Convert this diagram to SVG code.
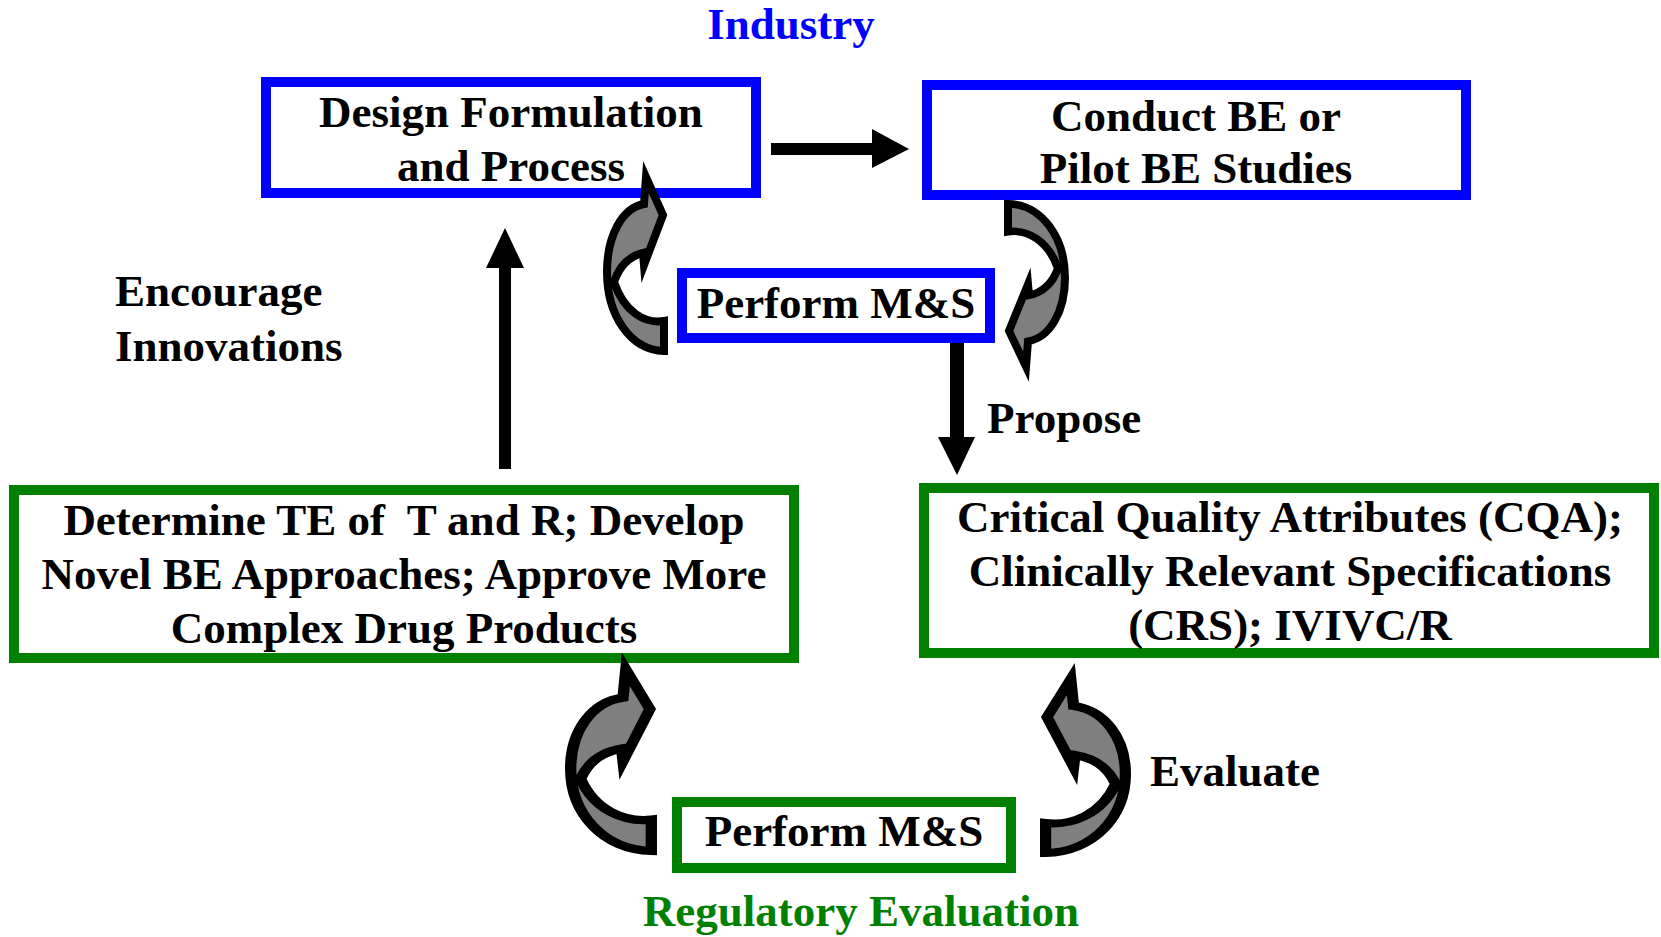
<svg xmlns="http://www.w3.org/2000/svg" width="1661" height="937" viewBox="0 0 1661 937">
  <style>
    .lbl { font-family: "Liberation Serif", "Times New Roman", serif; font-weight: bold; font-size: 45px; fill: #000; }
    .mid { text-anchor: middle; }
    .blueT { fill: #0000ff; }
    .greenT { fill: #008000; }
    .boxB { fill: #fff; stroke: #0000ff; stroke-width: 10; }
    .boxG { fill: #fff; stroke: #008000; stroke-width: 10; }
    .solid { fill: #000; stroke: none; }
    .bend { fill: #7f7f7f; stroke: #000; stroke-width: 8; stroke-linejoin: miter; stroke-miterlimit: 10; }
  </style>
  <defs>
    <!-- curved block arrow: tail at lower right, bends left, head points right at the top -->
    <path id="bentArrow" d="M 664,321 C 645,324 624,312 614,282 C 620,264 630,256 643,253 L 644,265 L 663,215 L 646,177 L 644,204 C 622,208 607,236 607,272 C 607,315 630,350 664,351 Z"/>
  </defs>

  <rect width="1661" height="937" fill="#fff"/>

  <!-- section titles -->
  <text class="lbl mid blueT" x="791" y="39">Industry</text>
  <text class="lbl mid greenT" x="861" y="926">Regulatory Evaluation</text>

  <g id="design">
    <rect class="boxB" x="266" y="82" width="490" height="111"/>
    <text class="lbl mid" x="511" y="127">Design Formulation</text>
    <text class="lbl mid" x="511" y="181">and Process</text>
  </g>

  <g id="conduct">
    <rect class="boxB" x="927" y="85" width="539" height="110"/>
    <text class="lbl mid" x="1196" y="131">Conduct BE or</text>
    <text class="lbl mid" x="1196" y="183">Pilot BE Studies</text>
  </g>

  <g id="industryMS">
    <rect class="boxB" x="682" y="273" width="308" height="65"/>
    <text class="lbl mid" x="836" y="318">Perform M&amp;S</text>
  </g>

  <g id="determine">
    <rect class="boxG" x="14" y="490" width="780" height="168"/>
    <text class="lbl mid" x="404" y="535" xml:space="preserve">Determine TE of  T and R; Develop</text>
    <text class="lbl mid" x="404" y="589">Novel BE Approaches; Approve More</text>
    <text class="lbl mid" x="404" y="643">Complex Drug Products</text>
  </g>

  <g id="cqa">
    <rect class="boxG" x="924" y="488" width="730" height="165"/>
    <text class="lbl mid" x="1290" y="532">Critical Quality Attributes (CQA);</text>
    <text class="lbl mid" x="1290" y="586">Clinically Relevant Specifications</text>
    <text class="lbl mid" x="1290" y="640">(CRS); IVIVC/R</text>
  </g>

  <g id="regulatoryMS">
    <rect class="boxG" x="677" y="802" width="334" height="66"/>
    <text class="lbl mid" x="844" y="846">Perform M&amp;S</text>
  </g>

  <g id="connectors">
    <!-- straight block arrows -->
    <polygon class="solid" points="771,143 872,143 872,129 909,149 872,168 872,155 771,155"/>
    <polygon class="solid" points="499,469 499,268 486,268 505,228 524,268 511,268 511,469"/>
    <polygon class="solid" points="950,343 964,343 964,437 975,437 957,475 938,437 950,437"/>

    <!-- curved block arrows -->
    <use href="#bentArrow" class="bend"/>
    <use href="#bentArrow" class="bend" vector-effect="non-scaling-stroke" transform="translate(1672,375) scale(-1,-0.936) translate(0,-168)"/>
    <use href="#bentArrow" class="bend" transform="translate(565,660) scale(1.415,1.043) translate(-603,-168)"/>
    <use href="#bentArrow" class="bend" transform="translate(1131,670) scale(-1.4,1) translate(-603,-168)"/>

    <!-- connector labels -->
    <text class="lbl" x="115" y="306">Encourage</text>
    <text class="lbl" x="115" y="361">Innovations</text>
    <text class="lbl" x="987" y="433">Propose</text>
    <text class="lbl" x="1150" y="786">Evaluate</text>
  </g>
</svg>
